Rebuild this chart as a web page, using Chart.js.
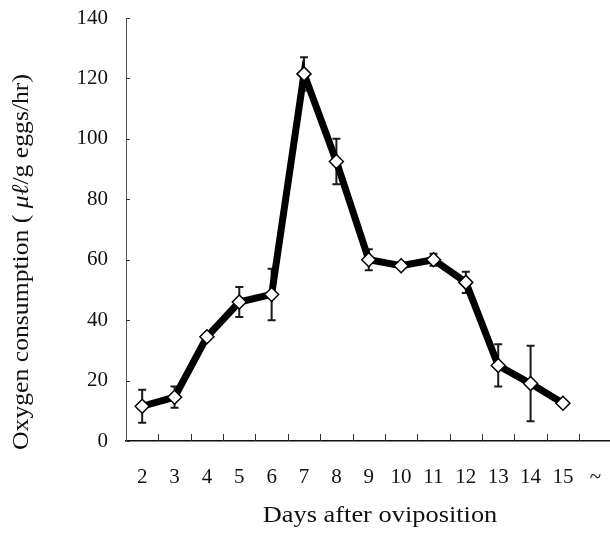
<!DOCTYPE html>
<html>
<head>
<meta charset="utf-8">
<script src="https://cdn.jsdelivr.net/npm/chart.js@4.4.1/dist/chart.umd.min.js"></script>
<style>
  html, body { margin: 0; padding: 0; background: #fff; overflow: hidden; }
  #wrap { width: 620px; height: 536px; }
</style>
</head>
<body>
<div id="wrap"><canvas id="oxygenChart" width="620" height="536"></canvas></div>
<script>
// Oxygen consumption of eggs by day after oviposition
const days = ["2", "3", "4", "5", "6", "7", "8", "9", "10", "11", "12", "13", "14", "15", "~"];
const oxygen = [11.5, 14.5, 34.5, 46, 48.5, 121.5, 92.5, 60, 58, 60, 52.5, 25, 19, 12.5, null];
const errors = [5.5, 3.5, 0, 5, 8.5, 5.5, 7.5, 3.5, 0, 2, 3.5, 7, 12.5, 0, null];
const yTicks = [0, 20, 40, 60, 80, 100, 120, 140];

const FONT = "'Liberation Serif', 'Times New Roman', serif";

// error bars drawn under the line and markers
const errorBars = {
  id: "errorBars",
  beforeDatasetsDraw(chart) {
    const { ctx, scales: { x, y } } = chart;
    ctx.save();
    ctx.strokeStyle = "#1a1a1a";
    ctx.lineWidth = 2;
    oxygen.forEach((v, i) => {
      if (v == null || !errors[i]) return;
      const px = x.getPixelForValue(i);
      const top = y.getPixelForValue(v + errors[i]);
      const bot = y.getPixelForValue(v - errors[i]);
      ctx.beginPath();
      ctx.moveTo(px, top); ctx.lineTo(px, bot);
      ctx.moveTo(px - 4, top); ctx.lineTo(px + 4, top);
      ctx.moveTo(px - 4, bot); ctx.lineTo(px + 4, bot);
      ctx.stroke();
    });
    ctx.restore();
  }
};

// inside tick marks and axis titles
const axisDecor = {
  id: "axisDecor",
  afterDraw(chart) {
    const { ctx, chartArea, scales: { x, y } } = chart;
    ctx.save();
    ctx.strokeStyle = "#333";
    ctx.lineWidth = 1;
    ctx.beginPath();
    yTicks.forEach(t => {
      const py = Math.round(y.getPixelForValue(t)) + 0.5;
      ctx.moveTo(chartArea.left, py);
      ctx.lineTo(chartArea.left + 4, py);
    });
    for (let i = 1; i < days.length; i++) {
      const px = Math.round(x.getPixelForValue(i - 0.5)) + 0.5;
      ctx.moveTo(px, chartArea.bottom);
      ctx.lineTo(px, chartArea.bottom - 7);
    }
    ctx.stroke();

    ctx.fillStyle = "#111";
    ctx.textBaseline = "middle";

    // x title, slightly stretched like the source
    ctx.save();
    ctx.translate(380, 516);
    ctx.scale(1.1, 1);
    ctx.textAlign = "center";
    ctx.font = "24px " + FONT;
    ctx.fillText("Days after oviposition", 0, 0);
    ctx.restore();

    // y title with italic unit
    const parts = [
      ["Oxygen consumption ( ", "24px " + FONT],
      ["μℓ", "italic 24px " + FONT],
      ["/g eggs/hr)", "24px " + FONT]
    ];
    let total = 0;
    parts.forEach(p => { ctx.font = p[1]; total += ctx.measureText(p[0]).width; });
    ctx.translate(22, 262);
    ctx.rotate(-Math.PI / 2);
    ctx.scale(1.07, 1);
    ctx.textAlign = "left";
    let pos = -total / 2;
    parts.forEach(p => {
      ctx.font = p[1];
      ctx.fillText(p[0], pos, 0);
      pos += ctx.measureText(p[0]).width;
    });
    ctx.restore();
  }
};

new Chart(document.getElementById("oxygenChart"), {
  type: "line",
  data: {
    labels: days,
    datasets: [{
      label: "Oxygen consumption",
      data: oxygen,
      borderColor: "#000",
      borderWidth: 7,
      pointStyle: "rectRot",
      pointRadius: 7,
      pointBackgroundColor: "#fff",
      pointBorderColor: "#000",
      pointBorderWidth: 1.5,
      tension: 0
    }]
  },
  options: {
    responsive: false,
    animation: false,
    layout: { padding: { top: 18, right: 4, left: 0, bottom: 0 } },
    plugins: {
      legend: { display: false },
      tooltip: { enabled: false }
    },
    scales: {
      x: {
        offset: true,
        grid: { display: false, drawTicks: false },
        border: { color: "#111", width: 1.5 },
        ticks: {
          color: "#111",
          padding: 24,
          maxRotation: 0,
          autoSkip: false,
          font: { family: FONT, size: 21 }
        },
        afterFit(scale) {
          scale.height = 95;
          scale.paddingLeft = 0;
          scale.paddingRight = 0;
        }
      },
      y: {
        min: 0,
        max: 140,
        grid: { display: false, drawTicks: false },
        border: { color: "#555", width: 1 },
        ticks: {
          stepSize: 20,
          color: "#111",
          padding: 18,
          font: { family: FONT, size: 21 }
        },
        afterFit(scale) {
          scale.width = 126;
          scale.paddingTop = 0;
          scale.paddingBottom = 0;
        }
      }
    }
  },
  plugins: [errorBars, axisDecor]
});
</script>
</body>
</html>
